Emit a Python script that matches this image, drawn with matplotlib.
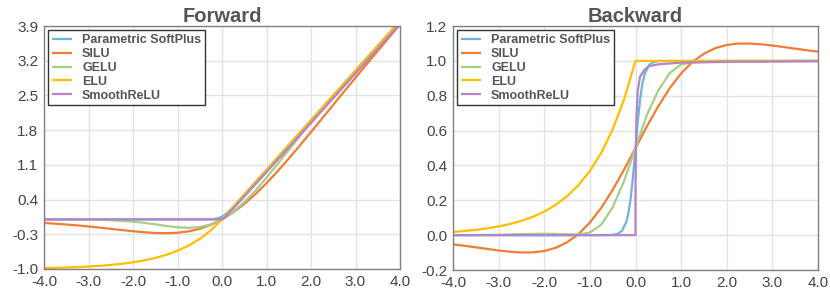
import matplotlib
matplotlib.use("Agg")
import matplotlib.pyplot as plt

# values
names = ["Parametric SoftPlus", "SILU", "GELU", "ELU", "SmoothReLU"]
colors = ["#6db3e2", "#f07d35", "#a5cf85", "#ffbf00", "#b384c9"]

x_main = [-4.0, -3.75, -3.5, -3.25, -3.0, -2.75, -2.5, -2.25, -2.0, -1.75,
          -1.5, -1.25, -1.0, -0.75, -0.5, -0.25, 0.0, 0.25, 0.5, 0.75, 1.0,
          1.25, 1.5, 1.75, 2.0, 2.25, 2.5, 2.75, 3.0, 3.25, 3.5, 3.75, 4.0]

# forward
silu_fwd = [-0.072, -0.086, -0.103, -0.121, -0.142, -0.165, -0.190, -0.215,
            -0.238, -0.259, -0.274, -0.278, -0.269, -0.241, -0.189, -0.109,
            0.0, 0.141, 0.311, 0.509, 0.731, 0.972, 1.226, 1.491, 1.762,
            2.035, 2.310, 2.585, 2.858, 3.129, 3.397, 3.664, 3.928]
gelu_fwd = [0.0, 0.0, -0.001, -0.002, -0.004, -0.008, -0.016, -0.028, -0.045,
            -0.07, -0.10, -0.132, -0.159, -0.170, -0.154, -0.100, 0.0, 0.150,
            0.346, 0.580, 0.841, 1.118, 1.400, 1.680, 1.955, 2.222, 2.484,
            2.742, 2.996, 3.248, 3.499, 3.750, 4.0]
elu_fwd = [-0.982, -0.977, -0.970, -0.961, -0.950, -0.936, -0.918, -0.895,
           -0.865, -0.826, -0.777, -0.714, -0.632, -0.528, -0.393, -0.221,
           0.0, 0.25, 0.5, 0.75, 1.0, 1.25, 1.5, 1.75, 2.0, 2.25, 2.5, 2.75,
           3.0, 3.25, 3.5, 3.75, 4.0]

x_psp_fwd = [-4.0, -0.5, -0.3, -0.2, -0.1, 0.0, 0.1, 0.2, 0.3, 0.5, 4.0]
psp_fwd = [0.0, 0.0002, 0.002, 0.006, 0.020, 0.055, 0.120, 0.206, 0.302,
           0.500, 4.0]

x_srelu_fwd = [-4.0, 0.0, 0.05, 0.1, 0.25, 0.5, 1.0, 2.0, 4.0]
srelu_fwd = [0.0, 0.0, 0.032, 0.076, 0.217, 0.461, 0.954, 1.947, 3.940]

# backward
silu_bwd = [-0.053, -0.061, -0.070, -0.079, -0.088, -0.095, -0.0995, -0.099,
            -0.091, -0.073, -0.041, 0.006, 0.072, 0.157, 0.260, 0.376, 0.5,
            0.624, 0.740, 0.843, 0.928, 0.994, 1.041, 1.073, 1.091, 1.099,
            1.0995, 1.095, 1.088, 1.079, 1.070, 1.061, 1.053]
gelu_bwd = [0.0, 0.0005, 0.001, 0.0015, 0.002, 0.004, 0.006, 0.007, 0.008,
            0.007, 0.005, 0.004, 0.015, 0.06, 0.16, 0.31, 0.5, 0.69, 0.83,
            0.93, 0.98, 0.991, 0.993, 0.993, 0.993, 0.994, 0.995, 0.996,
            0.997, 0.998, 0.999, 0.999, 1.0]
elu_bwd = [0.018, 0.024, 0.030, 0.039, 0.050, 0.064, 0.082, 0.105, 0.135,
           0.174, 0.223, 0.287, 0.368, 0.472, 0.607, 0.779, 1.0, 1.0, 1.0,
           1.0, 1.0, 1.0, 1.0, 1.0, 1.0, 1.0, 1.0, 1.0, 1.0, 1.0, 1.0, 1.0,
           1.0]

x_psp_bwd = [-4.0, -0.6, -0.5, -0.4, -0.3, -0.2, -0.15, -0.1, -0.05, 0.0,
             0.05, 0.1, 0.15, 0.2, 0.3, 0.4, 0.5, 0.6, 4.0]
psp_bwd = [0.0, 0.0006, 0.002, 0.007, 0.023, 0.076, 0.133, 0.223, 0.349, 0.5,
           0.651, 0.777, 0.867, 0.924, 0.977, 0.993, 0.998, 0.999, 1.0]

x_srelu_bwd = [-4.0, 0.0, 0.0, 0.01, 0.02, 0.05, 0.1, 0.2, 0.3, 0.5, 1.0,
               2.0, 4.0]
srelu_bwd = [0.0, 0.0, 0.3, 0.5, 0.67, 0.83, 0.91, 0.95, 0.97, 0.98, 0.99,
             0.995, 0.9975]

x_ticks = [-4.0, -3.0, -2.0, -1.0, 0.0, 1.0, 2.0, 3.0, 4.0]
fwd_yticks = [-1.0, -0.3, 0.4, 1.1, 1.8, 2.5, 3.2, 3.9]
bwd_yticks = [-0.2, 0.0, 0.2, 0.4, 0.6, 0.8, 1.0, 1.2]

plt.rcParams["font.family"] = ["Liberation Sans", "DejaVu Sans"]

fig = plt.figure(figsize=(8.3, 2.93), dpi=100)
ax_f = fig.add_axes([44 / 830, 24 / 293, 356 / 830, 243 / 293])
ax_b = fig.add_axes([453 / 830, 23 / 293, 365 / 830, 244 / 293])

fwd_series = [
    (x_psp_fwd, psp_fwd),
    (x_main, silu_fwd),
    (x_main, gelu_fwd),
    (x_main, elu_fwd),
    (x_srelu_fwd, srelu_fwd),
]
bwd_series = [
    (x_psp_bwd, psp_bwd),
    (x_main, silu_bwd),
    (x_main, gelu_bwd),
    (x_main, elu_bwd),
    (x_srelu_bwd, srelu_bwd),
]


def style_axes(ax, title, yticks):
    ax.set_xlim(-4, 4)
    ax.set_ylim(yticks[0], yticks[-1])
    ax.set_xticks(x_ticks)
    ax.set_xticklabels([f"{v:.1f}" for v in x_ticks])
    ax.set_yticks(yticks)
    ax.set_yticklabels([f"{v:.1f}" for v in yticks])
    ax.grid(True, color="#e3e3e3", linewidth=1.0)
    ax.set_axisbelow(True)
    for sp in ax.spines.values():
        sp.set_color("#808080")
        sp.set_linewidth(1.0)
    ax.tick_params(length=0, labelsize=11, labelcolor="#444444", pad=4)
    ax.set_title(title, fontsize=14.5, fontweight="bold", color="#555555",
                 pad=3)
    leg = ax.legend(loc="upper left", fancybox=False, framealpha=1,
                    edgecolor="#333333", handlelength=1.6, handletextpad=0.8,
                    labelspacing=0.15, borderpad=0.3, borderaxespad=0.35,
                    prop={"weight": "bold", "size": 9})
    leg.get_frame().set_linewidth(1.0)
    for t in leg.get_texts():
        t.set_color("#555555")


for ax, series in ((ax_f, fwd_series), (ax_b, bwd_series)):
    for (xs, ys), name, c in zip(series, names, colors):
        ax.plot(xs, ys, color=c, linewidth=1.6, label=name,
                solid_capstyle="butt")

style_axes(ax_f, "Forward", fwd_yticks)
style_axes(ax_b, "Backward", bwd_yticks)

fig.savefig("out.png", dpi=100)
